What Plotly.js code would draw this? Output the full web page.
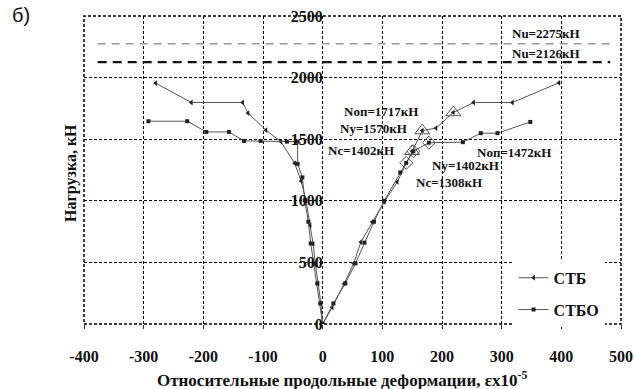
<!DOCTYPE html>
<html>
<head>
<meta charset="utf-8">
<script src="https://cdn.plot.ly/plotly-3.0.1.min.js"></script>
<style>html,body{margin:0;padding:0;background:#fff;}#chart{width:636px;height:389px;}</style>
</head>
<body>
<div id="chart"></div>
<script>
// Series СТБ (strain x10^-5, load kN)
const stbStrain = [-280, -220, -134, -125, -95, -70, -47, -36, -28, -21, -16, -12, -8, -3, 0,
                   16, 36, 52, 64, 83, 103, 125, 150, 167, 190, 219, 253, 318, 396];
const stbLoad   = [1955, 1798, 1798, 1712, 1573, 1480, 1305, 1160, 1004, 800, 650, 480, 330, 167, 0,
                   136, 327, 492, 665, 828, 990, 1153, 1402, 1570, 1590, 1717, 1798, 1798, 1958];
// Series СТБО
const stboStrain = [-292, -227, -195, -157, -132, -104, -60, -42, -42, -34, -30, -24, -20, -15, -9, -4, 0,
                    18, 38, 55, 70, 86, 103, 130, 140, 152, 178, 235, 265, 293, 348];
const stboLoad   = [1646, 1646, 1559, 1559, 1486, 1486, 1480, 1480, 1300, 1190, 1004, 830, 654, 492, 329, 167, 0,
                    167, 330, 492, 660, 830, 1000, 1230, 1308, 1402, 1472, 1476, 1549, 1549, 1640];
// Key points (Nc, Ny, Nоп)
const stbKeyStrain = [150, 167, 219];
const stbKeyLoad   = [1402, 1570, 1717];
const stboKeyStrain = [140, 152, 178];
const stboKeyLoad   = [1308, 1402, 1472];
// Ultimate loads
const nuValues = [2275, 2126];
const nuSpan = [-377, 482];
// Axis ticks
const xTicks = [-400, -300, -200, -100, 0, 100, 200, 300, 400, 500];
const xTickText = ['-400', '-300', '-200', '-100', '0', '100', '200', '300', '400', '500'];
const yTicks = [0, 500, 1000, 1500, 2000, 2500];
// Labels
const keyLabels = [
  {t: 'Nоп=1717кН', x: 97, y: 1728},
  {t: 'Ny=1570кН', x: 86, y: 1590},
  {t: 'Nc=1402кН', x: 65, y: 1411},
  {t: 'Nоп=1472кН', x: 320, y: 1394},
  {t: 'Ny=1402кН', x: 240, y: 1289},
  {t: 'Nc=1308кН', x: 211, y: 1150},
  {t: 'Nu=2275кН', x: 374, y: 2362},
  {t: 'Nu=2126кН', x: 374, y: 2199}
];

const serif = 'Liberation Serif, Times New Roman, serif';

const traces = [
  {x: nuSpan, y: [nuValues[0], nuValues[0]], mode: 'lines', showlegend: false, hoverinfo: 'skip',
   line: {color: '#9a9a9a', width: 1.5, dash: '8px,6px'}},
  {x: nuSpan, y: [nuValues[1], nuValues[1]], mode: 'lines', showlegend: false, hoverinfo: 'skip',
   line: {color: '#111', width: 2.2, dash: '9px,6px'}},
  {x: stbStrain, y: stbLoad, mode: 'lines+markers', name: 'СТБ', legendgroup: 'a',
   line: {color: '#555', width: 1}, marker: {symbol: 'triangle-left', size: 5, color: '#222'}},
  {x: stboStrain, y: stboLoad, mode: 'lines+markers', name: 'СТБО', legendgroup: 'b',
   line: {color: '#555', width: 1}, marker: {symbol: 'square', size: 4, color: '#222'}},
  {x: stbKeyStrain, y: stbKeyLoad, mode: 'markers', showlegend: false,
   marker: {symbol: 'triangle-up-open', size: 13, color: '#555', line: {width: 1}}},
  {x: stboKeyStrain, y: stboKeyLoad, mode: 'markers', showlegend: false,
   marker: {symbol: 'diamond-open', size: 10, color: '#555', line: {width: 1}}}
];

const annotations = keyLabels.map(k => ({
  x: k.x, y: k.y, xref: 'x', yref: 'y', text: k.t, showarrow: false,
  font: {family: serif, size: 13, color: '#111', weight: 'bold'}
}));
annotations.push({xref: 'paper', yref: 'paper', x: -0.045, y: 0.49, text: 'Нагрузка, кН',
  textangle: -90, showarrow: false, font: {family: serif, size: 16, color: '#111', weight: 'bold'}});
annotations.push({xref: 'paper', yref: 'paper', x: 0.48, y: -0.178, yanchor: 'middle',
  text: 'Относительные продольные деформации, εх10<sup>-5</sup>', showarrow: false,
  font: {family: serif, size: 17, color: '#111', weight: 'bold'}});
annotations.push({xref: 'paper', yref: 'paper', x: -0.138, y: 1.045, xanchor: 'left', yanchor: 'top',
  text: 'б)', showarrow: false, font: {family: 'Liberation Sans, Arial, sans-serif', size: 20, color: '#111'}});

const layout = {
  width: 636, height: 389,
  margin: {l: 84, r: 15, t: 16, b: 65},
  paper_bgcolor: '#fff', plot_bgcolor: '#fff',
  showlegend: true,
  legend: {x: 0.8, y: 0.205, xanchor: 'left', yanchor: 'top', bgcolor: '#fff',
    font: {family: serif, size: 16, color: '#111', weight: 'bold'},
    tracegroupgap: 8, traceorder: 'grouped', itemwidth: 30},
  xaxis: {range: [-400, 500], tickvals: xTicks, ticktext: xTickText,
    showgrid: true, gridcolor: '#000', griddash: '3px,2px', gridwidth: 1,
    zeroline: false, showline: false, ticks: 'outside', ticklen: 4, tickcolor: '#333',
    ticklabelstandoff: 14,
    tickfont: {family: serif, size: 16, color: '#111', weight: 'bold'}},
  yaxis: {range: [0, 2500], tickvals: yTicks, anchor: 'free', position: 400 / 900,
    showgrid: true, gridcolor: '#000', griddash: '3px,2px', gridwidth: 1,
    zeroline: false, showline: false, ticks: '', ticklabelstandoff: 0,
    tickfont: {family: serif, size: 16, color: '#111', weight: 'bold'}},
  shapes: [{type: 'rect', xref: 'paper', yref: 'paper', x0: 0, x1: 1, y0: 0, y1: 1,
    line: {color: '#000', width: 1.5, dash: '3px,2px'}}],
  annotations: annotations
};

Plotly.newPlot('chart', traces, layout, {staticPlot: true, displayModeBar: false});
</script>
</body>
</html>
